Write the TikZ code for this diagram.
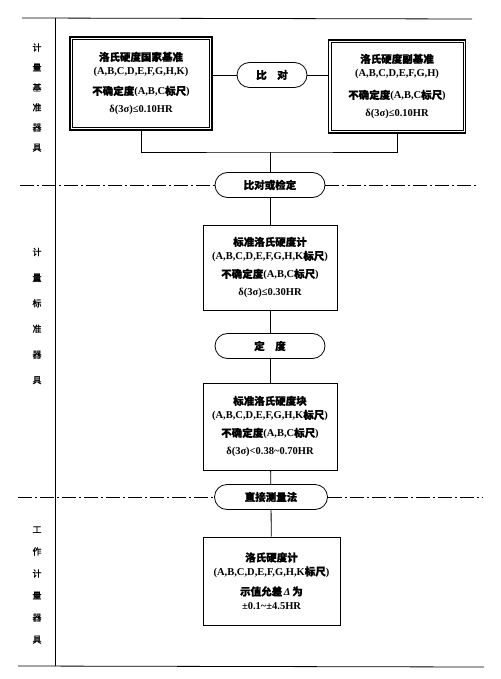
\documentclass[tikz,border=0pt]{standalone}
\usepackage{fontspec}
\setmainfont{Liberation Serif}
\newfontfamily\cjk[FakeBold=1.2]{Noto Sans CJK SC}
\newcommand{\zh}[1]{{\cjk #1}}

\begin{document}
\begin{tikzpicture}[x=1pt, y=-1pt, line width=0.8pt,
		font=\fontsize{10.5}{14}\selectfont\bfseries,
		stdbox/.style={draw, align=center, inner sep=0pt},
		basebox/.style={stdbox, line width=1.6pt},
		oval/.style={draw, rounded corners=12.5pt, minimum height=25pt, inner sep=0pt},
		sep/.style={line width=0.7pt, dash pattern=on 14pt off 3pt on 2pt off 3pt},
		sidelabel/.style={align=center, inner sep=0pt}]
		\useasboundingbox (0, 0) rectangle (500, 679);
		\coordinate (tl) at (22, 18);
		\coordinate (tr) at (472, 19);
		\coordinate (bl) at (18, 666);
		\coordinate (br) at (484, 667);
		\coordinate (vt) at (55, 18);
		\coordinate (vb) at (55, 666);
		\draw (tl) -- (tr);
		\draw (bl) -- (br);
		\draw (vt) -- (vb);
		\node[sidelabel, font=\cjk\fontsize{9}{20}\selectfont] (lab1) at (37, 97.5) {计\\量\\基\\准\\器\\具};
		\node[sidelabel, font=\cjk\fontsize{9}{25.6}\selectfont] (lab2) at (37, 316) {计\\量\\标\\准\\器\\具};
		\node[sidelabel, font=\cjk\fontsize{9}{22}\selectfont] (lab3) at (37, 585) {工\\作\\计\\量\\器\\具};
		\node[basebox, minimum width=142pt, minimum height=93pt] (natl) at (141, 83.5) {\zh{洛氏硬度国家基准}\\(A,B,C,D,E,F,G,H,K)\\[6pt]\zh{不确定度}(A,B,C\zh{标尺})\\[4pt]δ(3σ)≤0.10HR};
		\node[basebox, minimum width=137pt, minimum height=93pt] (sub) at (397, 86.5) {\zh{洛氏硬度副基准}\\(A,B,C,D,E,F,G,H)\\[8pt]\zh{不确定度}(A,B,C\zh{标尺})\\[4pt]δ(3σ)≤0.10HR};
		\draw[line width=0.5pt] ([shift={(3.5,3.5)}]natl.north west) rectangle ([shift={(-3.5,-3.5)}]natl.south east);
		\draw[line width=0.5pt] ([shift={(3.5,3.5)}]sub.north west) rectangle ([shift={(-3.5,-3.5)}]sub.south east);
		\node[oval, minimum width=70pt] (cmp) at (272, 75) {\zh{比\quad 对}};
		\node[oval, minimum width=110pt] (cal) at (270, 185) {\zh{比对或检定}};
		\node[stdbox, minimum width=134pt, minimum height=85pt] (stdm) at (270, 267.5) {\zh{标准洛氏硬度计}\\(A,B,C,D,E,F,G,H,K\zh{标尺})\\[4pt]\zh{不确定度}(A,B,C\zh{标尺})\\[4pt]δ(3σ)≤0.30HR};
		\node[oval, minimum width=110pt] (fix) at (270, 346) {\zh{定\quad 度}};
		\node[stdbox, minimum width=134pt, minimum height=87pt] (blk) at (270, 426.5) {\zh{标准洛氏硬度块}\\(A,B,C,D,E,F,G,H,K\zh{标尺})\\[4pt]\zh{不确定度}(A,B,C\zh{标尺})\\[4pt]δ(3σ)<0.38\textasciitilde 0.70HR};
		\node[oval, minimum width=113pt] (dir) at (271, 497) {\zh{直接测量法}};
		\node[stdbox, minimum width=137pt, minimum height=88pt] (work) at (271.5, 581) {\zh{洛氏硬度计}\\(A,B,C,D,E,F,G,H,K\zh{标尺})\\[6pt]\zh{示值允差}\,\textit{Δ}\,\zh{为}\\±0.1\textasciitilde ±4.5HR};
		\coordinate (join) at (270, 152);
		\coordinate (s1l) at (20, 185);
		\coordinate (s1r) at (476, 185);
		\coordinate (s2l) at (18, 497);
		\coordinate (s2r) at (482, 497);
		\draw (cmp.west -| natl.east) -- (cmp.west);
		\draw (cmp.east) -- (cmp.east -| sub.west);
		\draw (natl.south) |- (join) -| (sub.south);
		\draw (join) -- (cal);
		\draw (cal) -- (stdm);
		\draw (stdm) -- (fix);
		\draw (fix) -- (blk);
		\draw (blk) -- (dir);
		\draw (dir) -- (work);
		\draw[sep] (s1l) -- (cal.west);
		\draw[sep] (cal.east) -- (s1r);
		\draw[sep] (s2l) -- (dir.west);
		\draw[sep] (dir.east) -- (s2r);
	\end{tikzpicture}
\end{document}
